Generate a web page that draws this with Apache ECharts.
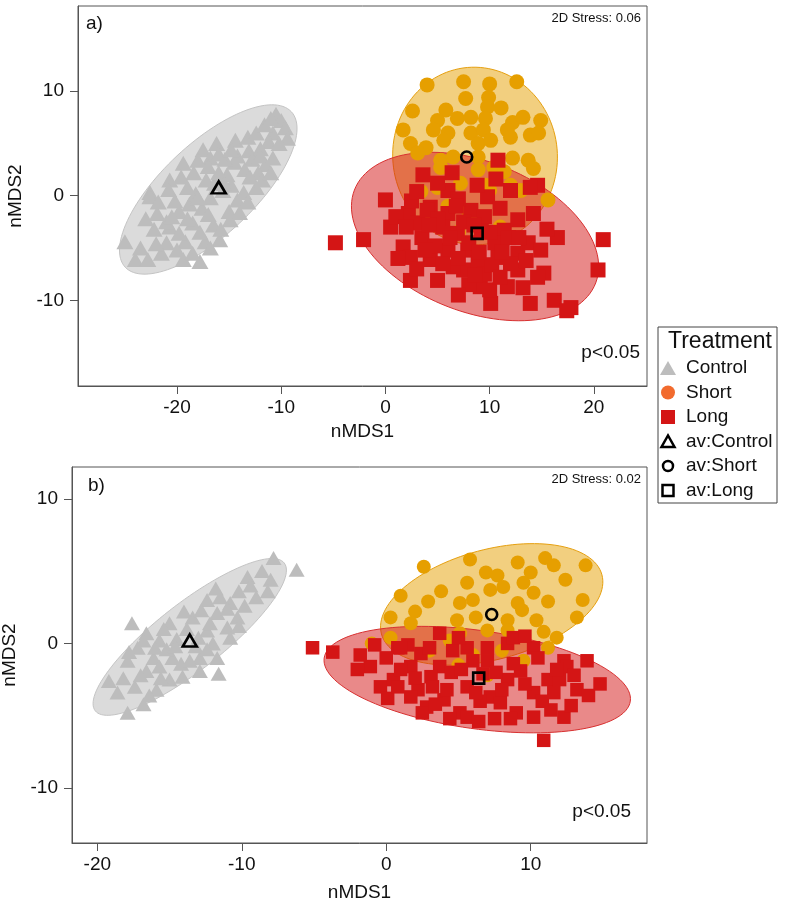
<!DOCTYPE html>
<html>
<head>
<meta charset="utf-8">
<script src="https://cdn.jsdelivr.net/npm/echarts@6/dist/echarts.min.js"></script>
<style>
  html, body { margin: 0; padding: 0; background: #fff; }
  #chart { width: 786px; height: 905px; }
</style>
</head>
<body>
<div id="chart"></div>
<script>
// panel a) sample scores [nMDS1, nMDS2]
const controlA = [[-10.5,7.8],[-10.0,7.2],[-9.6,6.5],[-10.8,6.0],[-9.4,5.5],[-11.2,5.2],[-10.2,5.0],
  [-14.4,5.3],[-16.2,5.0],[-17.5,4.4],[-13.1,4.3],[-12.0,4.5],[-12.8,3.5],[-11.5,3.0],[-12.2,2.2],[-13.5,2.5],
  [-14.5,3.2],[-15.2,2.0],[-16.4,1.2],[-19.4,3.1],[-20.7,1.5],[-22.6,0.3],[-22.6,-0.1],[-21.9,-1.7],[-25.0,-4.4],
  [-24.0,-6.1],[-22.8,-6.1],[-19.4,-6.1],[-17.8,-6.3],[-21.0,-4.5],[-19.2,-4.4],[-17.3,-4.4],[-15.9,-4.2],
  [-20.7,-3.0],[-18.5,-2.6],[-14.9,-2.3],[-14.2,-0.4],[-19.8,-1.5],[-18.8,-0.8],[-17.6,-1.2],[-16.8,-0.2],
  [-15.6,0.5],[-17.2,1.5],[-18.2,0.2],[-16.0,2.2],[-14.8,1.0],[-13.6,0.3],[-15.0,-1.5],[-16.5,-2.8],[-17.8,-3.5],
  [-19.0,-2.2],[-20.2,-0.5],[-21.0,-2.5],[-22.2,-3.2],[-13.0,1.8],[-12.4,0.8],[-14.2,3.8],[-15.4,3.5],[-18.4,2.2],
  [-16.8,3.6],[-11.8,1.5],[-23.5,-5.0],[-21.5,-5.5],[-20.0,-5.2],[-18.5,-5.5],[-16.8,-5.0],[-23.0,-2.2],
  [-21.8,-0.6],[-20.8,0.6],[-19.6,1.8],[-18.0,3.4],[-16.0,4.0],[-14.8,4.4],[-13.2,5.6],[-12.4,6.0],[-11.6,6.8],
  [-11.0,7.4],[-12.0,3.8],[-10.8,3.6],[-11.0,2.2],[-13.2,-0.6],[-14.0,-1.6],[-15.8,-3.2],[-17.0,-1.8],[-18.0,-0.2],
  [-19.0,0.8],[-17.0,2.8],[-15.5,1.2],[-20.5,-2.0],[-19.8,-3.6],[-22.0,-4.6]];
const shortA = [[4.0,10.6],[7.5,10.9],[10.0,10.7],[12.6,10.9],[7.7,9.3],[2.6,8.1],[9.9,9.4],[9.8,8.5],[11.1,8.4],
  [5.8,8.2],[5.0,7.2],[6.9,7.4],[8.2,7.5],[9.6,7.4],[12.2,7.0],[13.2,7.5],[14.9,7.2],[1.7,6.3],[4.6,6.3],[6.0,6.0],
  [8.2,6.0],[9.4,6.3],[11.7,6.3],[13.9,5.8],[14.7,6.0],[2.4,5.0],[3.9,4.6],[5.6,5.3],[8.9,5.0],[10.1,5.3],[12.0,5.6],
  [3.1,4.1],[5.3,3.4],[6.5,3.7],[8.9,3.7],[12.2,3.6],[13.7,3.4],[14.2,2.6],[5.3,2.7],[8.9,2.5],[10.4,2.7],[11.4,2.3],
  [3.4,0.4],[15.6,-0.4],[6.0,-1.0],[8.0,-1.5],[10.0,0.5],[12.0,1.0],[4.0,-2.0],[7.0,-3.5],[9.0,-2.5],[11.0,-3.0],
  [5.0,0.8],[13.0,0.5],[7.2,1.2],[9.6,1.0]];
const longA = [[10.8,3.4],[3.6,2.0],[6.4,2.2],[0.0,-0.4],[14.6,1.0],[2.2,-1.7],[4.3,-1.1],[-4.8,-4.5],[-2.1,-4.2],
  [0.5,-3.0],[1.7,-4.9],[2.4,-8.1],[5.0,-8.1],[3.1,-2.6],[4.0,-1.4],[6.0,-5.2],[6.9,-3.6],[7.5,-7.1],[9.1,-8.7],
  [10.1,-10.3],[10.8,-5.9],[11.7,-8.7],[12.7,-5.5],[13.7,-4.5],[14.9,-5.2],[13.9,-10.3],[15.2,-7.4],[16.5,-4.0],
  [16.2,-10.0],[17.8,-10.7],[17.4,-11.0],[20.4,-7.1],[20.9,-4.2],[11.4,-3.3],[12.7,-2.3],[14.2,-1.7],[13.9,0.8],
  [12.0,0.5],[9.8,-0.1],[8.2,-1.4],[6.0,-1.7],[7.9,-5.2],[8.9,-6.4],[12.7,-7.1],[14.6,-7.8],[2.4,-5.9],[4.3,-6.1],
  [5.5,-3.0],[7.5,-2.5],[9.5,-2.0],[10.5,-4.5],[8.0,-4.5],[6.5,-6.8],[9.5,-7.5],[3.5,-4.0],[1.0,-2.0],[2.5,-0.5],
  [6.0,0.5],[7.0,-0.3],[11.0,-1.2],[12.0,-6.5],[10.0,-9.0],[8.0,-8.5],[7.0,-9.5],[15.5,-3.2],[4.8,-4.8],[9.2,-3.4],
  [10.2,-6.6],[11.8,-4.0],[3.0,-7.0],[1.2,-6.0],[13.2,-8.8],[5.0,-2.2],[6.8,-1.0],[8.5,-2.8],[10.0,-3.5],
  [11.2,-5.4],[9.0,-5.4],[7.0,-6.0],[5.5,-6.5],[3.8,-5.2],[2.0,-3.0],[12.8,-4.0],[13.5,-6.2],[11.0,-7.8],
  [8.6,-7.6],[6.2,-4.0],[4.2,-2.8],[3.0,0.4],[5.0,1.2],[8.8,1.0],[10.6,1.6]];
// group centroids, panel a
const avA = { control: [-16.0, 0.8], short: [7.8, 3.7], long: [8.8, -3.6] };
// ellipses [centre x, centre y, semi-axis a, semi-axis b, angle deg]
const ellA = { control: [-17.0, 0.6, 10.9, 4.4, 43], short: [8.6, 3.8, 8.5, 7.9, 95], long: [8.6, -3.9, 12.4, 7.2, -21] };

// panel b)
const controlB = [[-7.8,5.9],[-6.2,5.1],[-9.6,4.6],[-8.0,4.4],[-8.2,3.6],[-12.4,3.0],[-11.5,3.2],[-10.8,2.8],
  [-10.3,1.8],[-11.7,2.1],[-13.4,1.8],[-15.0,1.4],[-17.6,1.4],[-16.6,0.7],[-15.7,0.2],[-12.4,0.9],[-11.0,1.1],
  [-17.2,-0.3],[-16.1,-1.0],[-14.8,-1.0],[-12.9,-1.0],[-11.7,-1.0],[-17.9,-1.2],[-16.6,-1.9],[-18.6,-3.4],
  [-17.9,-4.8],[-17.4,-3.0],[-15.9,-3.2],[-15.0,-2.5],[-14.1,-2.3],[-12.9,-1.9],[-11.6,-2.1],[-15.7,-1.6],
  [-14.5,0.3],[-13.2,-0.2],[-12.0,0.0],[-13.8,1.0],[-10.2,3.6],[-9.0,3.2],[-12.8,2.3],[-14.2,-1.4],[-16.0,-0.3],
  [-10.8,0.4],[-15.2,-0.4],[-17.0,-2.2],[-18.2,-2.4],[-16.4,-3.6],[-14.6,-0.2],[-13.0,0.4],[-12.2,1.4],
  [-11.0,2.4],[-9.8,2.6],[-9.4,4.0],[-8.6,5.0],[-14.0,2.2],[-15.4,1.0],[-16.8,0.2],[-17.8,-0.6],[-13.6,-1.2],
  [-12.4,-0.4],[-10.2,1.2],[-11.8,3.8],[-15.6,-2.4],[-16.8,-4.2],[-19.2,-2.6]];
const shortB = [[2.6,5.3],[5.8,5.8],[9.1,5.6],[11.0,5.9],[11.6,5.4],[13.8,5.4],[6.9,4.9],[7.7,4.7],[5.6,4.2],
  [10.0,4.9],[9.5,4.2],[8.1,3.9],[7.2,3.7],[1.0,3.3],[2.9,2.9],[5.1,2.8],[6.0,3.0],[9.1,2.8],[10.2,3.5],[11.2,2.9],
  [13.6,3.0],[2.0,2.2],[0.3,1.8],[4.9,1.6],[8.4,1.6],[9.4,2.3],[13.2,1.8],[1.7,1.4],[5.1,0.7],[7.0,0.9],[8.4,0.9],
  [10.9,0.8],[11.8,0.4],[11.2,-0.3],[-1.0,0.0],[0.3,0.4],[4.4,0.2],[3.0,-0.5],[6.0,-0.8],[8.0,-0.5],[9.5,-1.2],
  [5.0,-1.5],[7.0,-2.2],[6.2,1.8],[3.8,3.6],[12.4,4.4],[10.4,1.6]];
const longB = [[-5.1,-0.3],[-3.7,-0.6],[-0.8,-0.1],[0.8,-0.3],[1.5,-0.1],[3.7,0.7],[5.6,-0.3],[7.0,-0.3],[8.4,0.0],
  [8.8,0.4],[10.2,-0.3],[12.3,-1.2],[13.9,-1.2],[-1.1,-1.6],[-0.4,-3.0],[0.1,-3.8],[1.7,-1.6],[2.2,-3.2],[2.8,-4.4],
  [3.7,-1.6],[4.0,-3.9],[5.1,-4.8],[5.6,-5.1],[5.6,-3.0],[7.0,-1.2],[7.2,-3.7],[8.4,-2.5],[7.9,-4.1],[9.3,-1.9],
  [10.2,-3.4],[10.2,-5.1],[11.4,-4.6],[12.3,-5.1],[12.5,-1.6],[13.2,-3.2],[14.8,-2.8],[10.9,-6.7],[1.0,-0.3],
  [2.4,-0.7],[4.6,-0.5],[0.5,-2.5],[11.2,-2.5],[1.7,-3.7],[3.1,-2.3],[6.7,-2.1],[4.5,-2.0],[6.0,-1.2],[8.0,-3.2],
  [9.0,-4.8],[11.6,-3.4],[3.2,-3.0],[7.5,-5.2],[6.5,-4.0],[1.0,-1.8],[10.5,-1.0],[12.0,-2.5],[2.5,-4.8],[9.6,0.5],
  [5.0,0.4],[-1.8,-0.8],[0.0,-1.0],[2.0,-2.4],[3.0,-0.3],[4.2,-3.2],[5.2,-1.8],[6.2,-3.4],[7.6,-2.0],[8.8,-1.4],
  [9.6,-2.8],[10.8,-4.0],[11.8,-1.8],[13.0,-2.2],[14.0,-3.6],[8.6,-5.2],[6.4,-5.4],[4.4,-5.2],[3.4,-4.2],
  [0.8,-3.0],[-2.0,-1.8],[12.8,-4.3]];
const avB = { control: [-13.6, 0.2], short: [7.3, 2.0], long: [6.4, -2.4] };
const ellB = { control: [-13.6, 0.45, 8.3, 2.3, 38], short: [7.3, 2.7, 7.9, 3.8, 15], long: [6.3, -2.5, 10.7, 3.4, -8] };

const ticksAx = [-20, -10, 0, 10, 20];
const ticksBx = [-20, -10, 0, 10];
const ticksY = [-10, 0, 10];

const FONT = '"Liberation Sans", Arial, sans-serif';
const GREY = '#bdbdbd', AMBER = '#e69f00', RED = '#d41515';

function ellipseSeries(name, ell, idx, fill, stroke) {
  return {
    type: 'custom', name: name, xAxisIndex: idx, yAxisIndex: idx, z: 1, silent: true,
    data: [ell],
    renderItem: function (params, api) {
      const cx = api.value(0), cy = api.value(1), a = api.value(2), b = api.value(3);
      const t = api.value(4) * Math.PI / 180;
      const pts = [];
      for (let k = 0; k < 120; k++) {
        const f = k / 120 * 2 * Math.PI;
        pts.push(api.coord([
          cx + a * Math.cos(f) * Math.cos(t) - b * Math.sin(f) * Math.sin(t),
          cy + a * Math.cos(f) * Math.sin(t) + b * Math.sin(f) * Math.cos(t)
        ]));
      }
      return { type: 'polygon', shape: { points: pts }, style: { fill: fill, stroke: stroke, lineWidth: 1 } };
    }
  };
}

function pointSeries(name, data, idx, symbol, size, color) {
  return {
    type: 'scatter', name: name, xAxisIndex: idx, yAxisIndex: idx, z: 2, silent: true,
    symbol: symbol, symbolSize: size, data: data,
    itemStyle: { color: color, opacity: 1 }
  };
}

function avSeries(name, pt, idx, symbol, size) {
  return {
    type: 'scatter', name: name, xAxisIndex: idx, yAxisIndex: idx, z: 3, silent: true,
    symbol: symbol, symbolSize: size, data: [pt],
    itemStyle: { color: 'rgba(0,0,0,0)', borderColor: '#000', borderWidth: 2.6, opacity: 1 }
  };
}

function xAxis(idx, min, max, ticks, gap) {
  return {
    type: 'value', gridIndex: idx, min: min, max: max,
    name: 'nMDS1', nameLocation: 'middle', nameGap: gap,
    nameTextStyle: { fontFamily: FONT, fontSize: 19, color: '#111' },
    axisLine: { show: true, onZero: false, lineStyle: { color: '#555', width: 1 } },
    axisTick: { show: true, length: 8, customValues: ticks, lineStyle: { color: '#555' } },
    axisLabel: { customValues: ticks, fontFamily: FONT, fontSize: 19, color: '#111', margin: 12 },
    splitLine: { show: false }
  };
}

function yAxis(idx, min, max, gap) {
  return {
    type: 'value', gridIndex: idx, min: min, max: max,
    name: 'nMDS2', nameLocation: 'middle', nameGap: gap, nameRotate: 90,
    nameTextStyle: { fontFamily: FONT, fontSize: 19, color: '#111' },
    axisLine: { show: true, onZero: false, lineStyle: { color: '#555', width: 1 } },
    axisTick: { show: true, length: 8, customValues: ticksY, lineStyle: { color: '#555' } },
    axisLabel: { customValues: ticksY, fontFamily: FONT, fontSize: 19, color: '#111', margin: 14 },
    splitLine: { show: false }
  };
}

function label(text, x, y, size, align) {
  return { type: 'text', x: x, y: y, silent: true,
    style: { text: text, font: size + 'px ' + FONT, fill: '#111', align: align || 'left', verticalAlign: 'middle' } };
}

const legendRows = [
  { name: 'Control', y: 368 }, { name: 'Short', y: 392.5 }, { name: 'Long', y: 417 },
  { name: 'av:Control', y: 441.5 }, { name: 'av:Short', y: 466 }, { name: 'av:Long', y: 490.5 }
];
const lx = 668;
const legendGraphics = [
  { type: 'rect', shape: { x: 658, y: 327, width: 119, height: 176 }, style: { fill: '#fff', stroke: '#444', lineWidth: 1 } },
  label('Treatment', 668, 342, 23),
  { type: 'polygon', shape: { points: [[lx - 8, legendRows[0].y + 7], [lx + 8, legendRows[0].y + 7], [lx, legendRows[0].y - 7]] }, style: { fill: GREY } },
  { type: 'circle', shape: { cx: lx, cy: legendRows[1].y, r: 7 }, style: { fill: '#f26b2e' } },
  { type: 'rect', shape: { x: lx - 7, y: legendRows[2].y - 7, width: 14, height: 14 }, style: { fill: RED } },
  { type: 'polygon', shape: { points: [[lx - 6.5, legendRows[3].y + 5.5], [lx + 6.5, legendRows[3].y + 5.5], [lx, legendRows[3].y - 6]] }, style: { fill: 'none', stroke: '#000', lineWidth: 2.5 } },
  { type: 'circle', shape: { cx: lx, cy: legendRows[4].y, r: 5 }, style: { fill: 'none', stroke: '#000', lineWidth: 2.5 } },
  { type: 'rect', shape: { x: lx - 5.5, y: legendRows[5].y - 5.5, width: 11, height: 11 }, style: { fill: 'none', stroke: '#000', lineWidth: 2.5 } }
].concat(legendRows.map(r => label(r.name, 686, r.y, 19)));

const chart = echarts.init(document.getElementById('chart'), null, { renderer: 'canvas' });
chart.setOption({
  animation: false,
  backgroundColor: '#fff',
  grid: [
    { left: 78, top: 6, width: 569, height: 380, show: true, borderColor: '#555', borderWidth: 1,
      backgroundColor: 'transparent', outerBoundsMode: 'none', containLabel: false },
    { left: 72, top: 467, width: 575, height: 376, show: true, borderColor: '#555', borderWidth: 1,
      backgroundColor: 'transparent', outerBoundsMode: 'none', containLabel: false }
  ],
  xAxis: [xAxis(0, -29.5, 25.1, ticksAx, 36), xAxis(1, -21.75, 18.05, ticksBx, 40)],
  yAxis: [yAxis(0, -18.2, 18.15, 48), yAxis(1, -13.8, 12.2, 44)],
  series: [
    ellipseSeries('ell-control-a', ellA.control, 0, 'rgba(190,190,190,0.55)', '#c4c4c4'),
    ellipseSeries('ell-short-a', ellA.short, 0, 'rgba(230,159,0,0.5)', '#e6a010'),
    ellipseSeries('ell-long-a', ellA.long, 0, 'rgba(212,20,20,0.5)', '#d83030'),
    pointSeries('Control', controlA, 0, 'triangle', [17, 15], GREY),
    pointSeries('Short', shortA, 0, 'circle', 15, AMBER),
    pointSeries('Long', longA, 0, 'rect', 15, RED),
    avSeries('av:Control', avA.control, 0, 'triangle', [14, 12]),
    avSeries('av:Short', avA.short, 0, 'circle', 11),
    avSeries('av:Long', avA.long, 0, 'rect', 11),

    ellipseSeries('ell-control-b', ellB.control, 1, 'rgba(190,190,190,0.55)', '#c4c4c4'),
    ellipseSeries('ell-short-b', ellB.short, 1, 'rgba(230,159,0,0.5)', '#e6a010'),
    ellipseSeries('ell-long-b', ellB.long, 1, 'rgba(212,20,20,0.5)', '#d83030'),
    pointSeries('Control', controlB, 1, 'triangle', [16, 14], GREY),
    pointSeries('Short', shortB, 1, 'circle', 14, AMBER),
    pointSeries('Long', longB, 1, 'rect', 13.5, RED),
    avSeries('av:Control', avB.control, 1, 'triangle', [14, 12]),
    avSeries('av:Short', avB.short, 1, 'circle', 11),
    avSeries('av:Long', avB.long, 1, 'rect', 11)
  ],
  graphic: [
    label('a)', 86, 24, 19),
    label('2D Stress: 0.06', 641, 18, 13, 'right'),
    label('p<0.05', 640, 353, 19, 'right'),
    label('b)', 88, 486, 19),
    label('2D Stress: 0.02', 641, 479, 13, 'right'),
    label('p<0.05', 631, 812, 19, 'right')
  ].concat(legendGraphics)
});
</script>
</body>
</html>
